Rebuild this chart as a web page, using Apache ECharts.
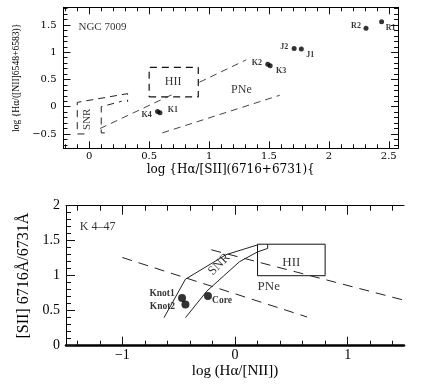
<!DOCTYPE html>
<html>
<head>
<meta charset="utf-8">
<script src="https://cdn.jsdelivr.net/npm/echarts@6/dist/echarts.min.js"></script>
<style>
  html, body { margin: 0; padding: 0; background: #fff; }
  #main { width: 423px; height: 388px; }
</style>
</head>
<body>
<div id="main"></div>
<script>
// ---------- top panel: NGC 7009 ----------
var topNames = ['K4', 'K1', 'K2', 'K3', 'J2', 'J1', 'R2', 'R1'];
var topX = [0.57, 0.59, 1.49, 1.51, 1.71, 1.77, 2.31, 2.44];
var topY = [-0.09, -0.11, 0.78, 0.75, 1.07, 1.06, 1.44, 1.56];
var topXTicks = [0, 0.5, 1, 1.5, 2, 2.5];
var topXLabels = ['0', '0.5', '1', '1.5', '2', '2.5'];
var topYTicks = [-0.5, 0, 0.5, 1, 1.5];
var topYLabels = ['\u22120.5', '0', '0.5', '1', '1.5'];
// region borders
var topHII = [[0.5, 0.18], [0.91, 0.18], [0.91, 0.72], [0.5, 0.72], [0.5, 0.18]];
var topSNROuter = [[-0.04, -0.5], [-0.1, -0.5], [-0.1, 0.08], [0.32, 0.24], [0.32, 0.09]];
var topSNRInner = [[0.13, -0.48], [0.1, -0.48], [0.1, 0.0], [0.27, 0.1]];
var topUpperA = [[0.09, -0.40], [0.69, 0.22]];
var topUpperB = [[0.92, 0.45], [1.31, 0.86]];
var topLower = [[0.61, -0.48], [1.59, 0.21]];

// ---------- bottom panel: K 4-47 ----------
var botNames = ['Knot1', 'Knot2', 'Core'];
var botX = [-0.47, -0.44, -0.24];
var botY = [0.68, 0.59, 0.71];
var botXTicks = [-1, 0, 1];
var botXLabels = ['\u22121', '0', '1'];
var botYTicks = [0, 0.5, 1, 1.5, 2];
var botYLabels = ['0', '0.5', '1', '1.5', '2'];
var botHII = [[0.2, 1.0], [0.8, 1.0], [0.8, 1.45], [0.2, 1.45], [0.2, 1.0]];
var botSNRUpper = [[-0.63, 0.40], [-0.44, 0.95], [-0.08, 1.3], [0.2, 1.44]];
var botSNRLower = [[-0.44, 0.40], [-0.25, 0.78], [0.04, 1.2], [0.2, 1.34], [0.29, 1.39], [0.29, 1.45]];
var botDashA = [[-1.0, 1.26], [0.64, 0.41]];
var botDashB = [[-0.21, 1.37], [1.5, 0.65]];

// text placed in the plots
var topNotes = [
  { t: 'NGC 7009', x: 0.11, y: 1.46, size: 11, rot: 0 },
  { t: 'HII', x: 0.70, y: 0.46, size: 12, rot: 0 },
  { t: 'PNe', x: 1.27, y: 0.31, size: 12, rot: 0 },
  { t: 'SNR', x: -0.02, y: -0.23, size: 11, rot: 90 }
];
var botNotes = [
  { t: 'K 4\u201347', x: -1.22, y: 1.70, size: 12, rot: 0 },
  { t: 'HII', x: 0.5, y: 1.19, size: 13, rot: 0 },
  { t: 'PNe', x: 0.30, y: 0.84, size: 13, rot: 0 },
  { t: 'SNR', x: -0.14, y: 1.16, size: 13, rot: 45 }
];

// label offsets next to each point (px)
var place = {
  K4: [-11, 3], K1: [13, -3], K2: [-11, -1], K3: [11, 5],
  J2: [-10, -1], J1: [9, 6], R2: [-10, -2], R1: [9, 6],
  Knot1: [-20, -5], Knot2: [-23, 2], Core: [14, 5]
};

function minorTicks(a, b, step, major) {
  var out = [];
  for (var v = a; v <= b + 1e-9; v += step) {
    var r = Math.round(v * 100) / 100;
    if (major.indexOf(r) < 0) out.push(r);
  }
  return out;
}

function makeAxes(dim, gi, min, max, major, minor, labels, o) {
  var sides = dim === 'x' ? ['bottom', 'top'] : ['left', 'right'];
  var list = [];
  [0, 1].forEach(function (s) {
    [major, minor].forEach(function (vals, k) {
      var main = s === 0 && k === 0;
      list.push({
        type: 'value', gridIndex: gi, min: min, max: max, position: sides[s],
        splitLine: { show: false },
        axisLine: { show: k === 0 && o.line[s] > 0, onZero: false,
          lineStyle: { color: '#000', width: o.line[s] || 1 } },
        axisTick: { show: o.ticks[s], inside: true, customValues: vals,
          length: k === 0 ? o.majorLen : o.minorLen,
          lineStyle: { color: '#111', width: 1 } },
        axisLabel: {
          show: main, customValues: major, margin: o.margin,
          fontFamily: o.font, fontSize: o.size, color: '#000',
          formatter: function (v) {
            for (var i = 0; i < major.length; i++) {
              if (Math.abs(major[i] - v) < 1e-6) return labels[i];
            }
            return '';
          }
        },
        name: main ? o.name : '', nameLocation: 'middle', nameGap: o.nameGap,
        nameTextStyle: { fontFamily: o.nameFont, fontSize: o.nameSize, color: '#000' }
      });
    });
  });
  return list;
}

var xAxes = [].concat(
  makeAxes('x', 0, -0.215, 2.577, topXTicks, minorTicks(-0.2, 2.5, 0.1, topXTicks), topXLabels, {
    line: [1, 1], ticks: [true, true], majorLen: 7, minorLen: 4, margin: 3,
    font: 'DejaVu Serif', size: 10, name: 'log {H\u03b1/[SII](6716+6731){',
    nameGap: 16, nameFont: 'DejaVu Serif', nameSize: 12
  }),
  makeAxes('x', 1, -1.5, 1.5, botXTicks, minorTicks(-1.4, 1.4, 0.2, botXTicks), botXLabels, {
    line: [2.5, 1], ticks: [true, true], majorLen: 9, minorLen: 5, margin: 3,
    font: 'Liberation Serif', size: 14, name: 'log (H\u03b1/[NII])',
    nameGap: 18, nameFont: 'Liberation Serif', nameSize: 15
  })
);
var yAxes = [].concat(
  makeAxes('y', 0, -0.763, 1.824, topYTicks, minorTicks(-0.7, 1.8, 0.1, topYTicks), topYLabels, {
    line: [1, 1], ticks: [true, true], majorLen: 7, minorLen: 4, margin: 7,
    font: 'DejaVu Serif', size: 10, name: 'log {H\u03b1/([NII]6548+6583)}',
    nameGap: 41, nameFont: 'Liberation Serif', nameSize: 9.6
  }),
  makeAxes('y', 1, 0, 2, botYTicks, minorTicks(0, 2, 0.1, botYTicks), botYLabels, {
    line: [1, 0], ticks: [true, false], majorLen: 9, minorLen: 5, margin: 6,
    font: 'Liberation Serif', size: 14, name: '[SII] 6716\u00c5/6731\u00c5',
    nameGap: 31, nameFont: 'Liberation Serif', nameSize: 16
  })
);

function points(xs, ys, names, fontSize) {
  return xs.map(function (x, i) {
    return {
      name: names[i], value: [x, ys[i]],
      label: { offset: place[names[i]], fontSize: fontSize }
    };
  });
}

function pathSeries(data, axis, dash, width, color) {
  return {
    type: 'line', xAxisIndex: axis, yAxisIndex: axis, data: data,
    showSymbol: false, symbol: 'none', silent: true,
    lineStyle: { color: color || '#222', width: width || 1, type: dash }
  };
}

function noteSeries(notes, axis) {
  return {
    type: 'scatter', xAxisIndex: axis, yAxisIndex: axis, symbolSize: 1, silent: true,
    itemStyle: { color: 'rgba(0,0,0,0)' },
    data: notes.map(function (n) {
      return {
        name: n.t, value: [n.x, n.y],
        label: { show: true, position: 'inside', formatter: '{b}', rotate: n.rot,
          fontFamily: 'Liberation Serif', fontSize: n.size, color: '#000' }
      };
    })
  };
}

var dashTop = [7, 5];
var dashBot = [10, 7];

var option = {
  animation: false,
  backgroundColor: '#fff',
  grid: [
    { left: 63.5, top: 7.3, width: 334.5, height: 141, containLabel: false, outerBoundsMode: 'none' },
    { left: 66, top: 205.7, width: 338, height: 140, containLabel: false, outerBoundsMode: 'none' }
  ],
  xAxis: xAxes,
  yAxis: yAxes,
  series: [
    pathSeries(topHII, 0, dashTop, 1.2, '#111'),
    pathSeries(topSNROuter, 0, dashTop, 1, '#222'),
    pathSeries(topSNRInner, 0, dashTop, 1, '#222'),
    pathSeries(topUpperA, 0, dashTop, 1, '#444'),
    pathSeries(topUpperB, 0, dashTop, 1, '#444'),
    pathSeries(topLower, 0, dashTop, 1, '#444'),
    {
      type: 'scatter', xAxisIndex: 0, yAxisIndex: 0, symbolSize: 5,
      itemStyle: { color: '#000' },
      label: { show: true, position: 'inside', formatter: '{b}', fontFamily: 'Liberation Serif',
        fontWeight: 'bold', color: '#000' },
      data: points(topX, topY, topNames, 8)
    },
    noteSeries(topNotes, 0),

    pathSeries(botHII, 4, 'solid', 1, '#111'),
    pathSeries(botSNRUpper, 4, 'solid', 1, '#222'),
    pathSeries(botSNRLower, 4, 'solid', 1, '#222'),
    pathSeries(botDashA, 4, dashBot, 1, '#222'),
    pathSeries(botDashB, 4, dashBot, 1, '#222'),
    {
      type: 'scatter', xAxisIndex: 4, yAxisIndex: 4, symbolSize: 8,
      itemStyle: { color: '#000' },
      label: { show: true, position: 'inside', formatter: '{b}', fontFamily: 'Liberation Serif',
        fontWeight: 'bold', color: '#000' },
      data: points(botX, botY, botNames, 9.5)
    },
    noteSeries(botNotes, 4)
  ]
};

var chart = echarts.init(document.getElementById('main'), null, { renderer: 'canvas' });
chart.setOption(option);
</script>
</body>
</html>
